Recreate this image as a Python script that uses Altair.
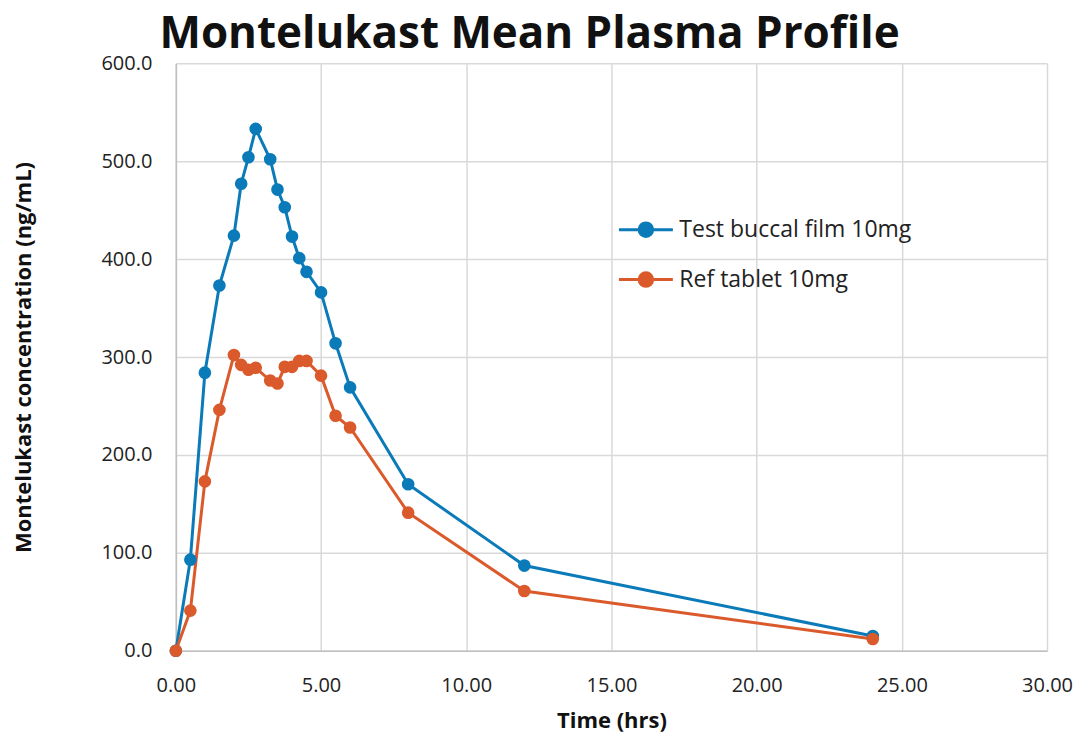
import altair as alt
import pandas as pd

time_hrs = [0, 0.5, 1, 1.5, 2, 2.25, 2.5, 2.75, 3.25, 3.5, 3.75, 4, 4.25, 4.5, 5, 5.5, 6, 8, 12, 24]
test_film = [0, 93, 284, 373, 424, 477, 504, 533, 502, 471, 453, 423, 401, 387, 366, 314, 269, 170, 87, 15]
ref_tablet = [0, 41, 173, 246, 302, 292, 287, 289, 276, 273, 290, 290, 296, 296, 281, 240, 228, 141, 61, 12]
series_names = ["Test buccal film 10mg", "Ref tablet 10mg"]
colors = ["#0A7AB8", "#DA5A2B"]

rows = []
for name, vals in zip(series_names, [test_film, ref_tablet]):
    for t, v in zip(time_hrs, vals):
        rows.append({"time": t, "conc": v, "series": name})
df = pd.DataFrame(rows)

FONT = "Open Sans"
sym = "M-1.8,0L1.8,0M0.45,0A0.45,0.45,0,1,1,-0.45,0A0.45,0.45,0,1,1,0.45,0Z"

chart = alt.Chart(df).mark_line(
    strokeWidth=3,
    point=alt.OverlayMarkDef(filled=True, size=160, opacity=1),
).encode(
    x=alt.X("time:Q", scale=alt.Scale(domain=[0, 30], nice=False),
            axis=alt.Axis(values=[0, 5, 10, 15, 20, 25, 30], format=".2f", title="Time (hrs)",
                          labelPadding=25, titlePadding=15)),
    y=alt.Y("conc:Q", scale=alt.Scale(domain=[0, 600], nice=False),
            axis=alt.Axis(values=[0, 100, 200, 300, 400, 500, 600], format=".1f",
                          title="Montelukast concentration (ng/mL)",
                          labelPadding=24, titlePadding=65)),
    color=alt.Color("series:N", scale=alt.Scale(domain=series_names, range=colors),
                    sort=series_names,
                    legend=alt.Legend(title=None, orient="none", legendX=454, legendY=150,
                                      symbolType=sym, symbolSize=900, symbolStrokeWidth=3,
                                      labelFontSize=23, labelFont=FONT, labelColor="#222222",
                                      labelLimit=0, rowPadding=20, labelOffset=17,
                                      padding=0)),
    order="time:Q",
).properties(
    width=872, height=588,
    title=alt.TitleParams("Montelukast Mean Plasma Profile", fontSize=44, font=FONT,
                          fontWeight="bold", color="#111111", anchor="middle", dx=-82, offset=-4),
).configure_view(stroke=None).configure_axis(
    grid=True, gridColor="#D9D9D9", gridWidth=1.5, domainColor="#BFBFBF", domainWidth=1.5,
    ticks=False, labelFont=FONT, labelFontSize=20, labelColor="#222222", labelFlush=False,
    titleFont=FONT, titleFontSize=22, titleFontWeight="bold", titleColor="#111111",
)

chart.save("out.html", embed_options={"renderer": "svg", "actions": False})
